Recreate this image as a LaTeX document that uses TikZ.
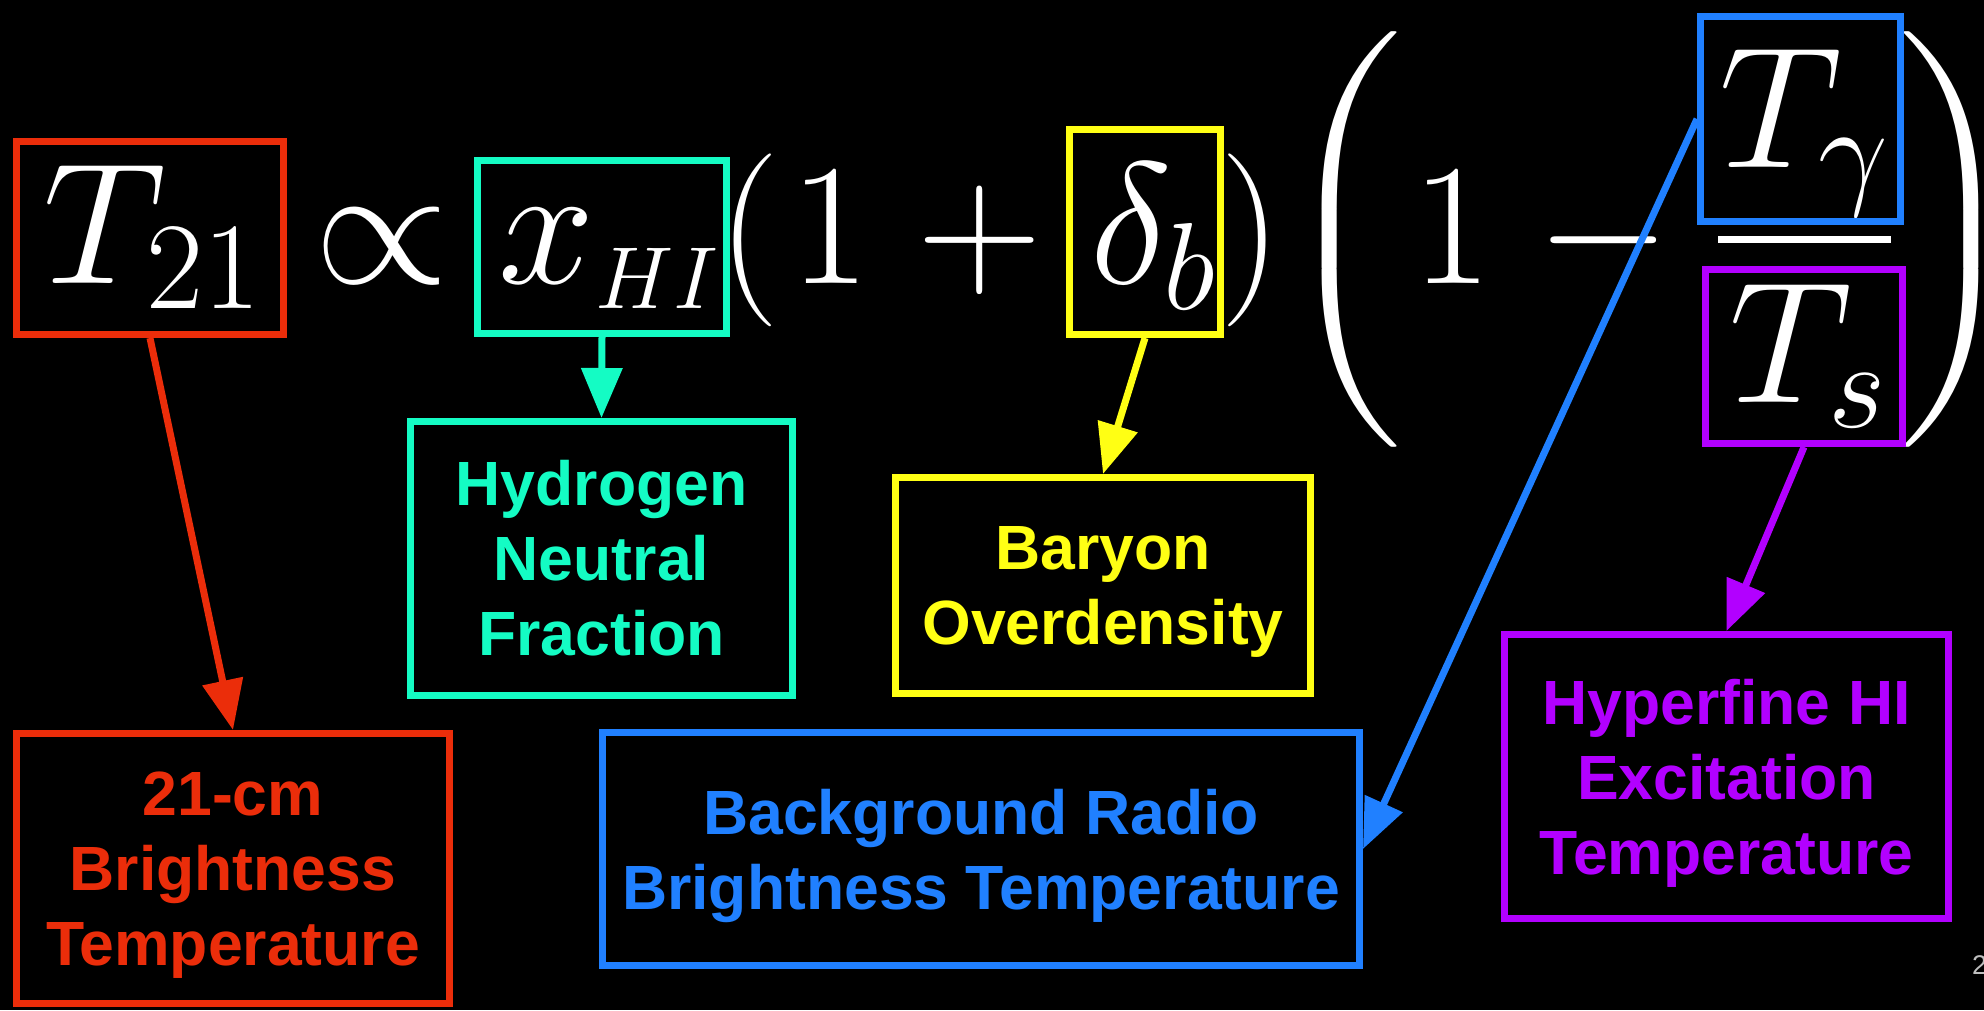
\RequirePackage{fix-cm}
\documentclass[tikz,border=0pt]{standalone}
\usepackage{graphicx}
\usepackage[no-math]{fontspec}
\newfontfamily\labfont{Liberation Sans}
\usetikzlibrary{arrows.meta}
\DeclareMathSizes{173}{173}{124}{88}
\definecolor{cred}{RGB}{235,45,10}
\definecolor{cteal}{RGB}{20,252,196}
\definecolor{cyel}{RGB}{255,255,20}
\definecolor{cblue}{RGB}{32,128,255}
\definecolor{cpurp}{RGB}{178,0,255}
\definecolor{cgray}{RGB}{190,190,190}
\newcommand{\bigleftparen}{\scalebox{13.6}[9.88]{$\nulldelimiterspace=0pt\left(\vrule height 24.5pt depth 19.5pt width 0pt\right.$}}
\newcommand{\bigrightparen}{\scalebox{13.6}[9.88]{$\nulldelimiterspace=0pt\left.\vrule height 24.5pt depth 19.5pt width 0pt\right)$}}
\tikzset{
  mathtxt/.style={text=white, inner sep=0pt, outer sep=0pt, anchor=base west, font=\fontsize{173}{200}\selectfont},
  bigparen/.style={text=white, inner sep=0pt, outer sep=0pt, anchor=west},
  hbox/.style={draw=#1, line width=7pt, inner sep=0pt},
  lbl/.style={draw=#1, text=#1, line width=7pt, align=center, inner sep=0pt, font=\labfont\bfseries\fontsize{62.5}{75}\selectfont},
  conn/.style={draw=#1, fill=#1, line width=7pt, -{Triangle[length=50pt,width=40pt]}}
}
\begin{document}
\begin{tikzpicture}[x=1pt,y=-1pt]
\fill[black] (0,0) rectangle (1984,1010);
\useasboundingbox (0,0) rectangle (1984,1010);
% math pieces
\node[mathtxt] (m1) at (43,283) {$T_{\kern4pt 21}$};
\node[mathtxt] (m2) at (314,283) {$\propto$};
\node[mathtxt] (m3) at (498,283) {$x_{\kern1pt\scriptscriptstyle HI}$};
\node[mathtxt] (m4) at (718,283) {$($};
\node[mathtxt] (m5) at (790,283) {$1$};
\node[mathtxt] (m6) at (917,283) {$+$};
\node[mathtxt] (m7) at (1090,283) {$\delta_{\kern-2pt b}$};
\node[mathtxt] (m8) at (1220,283) {$)$};
\node[bigparen] (m9) at (1282,239.5) {\bigleftparen};
\node[mathtxt] (m10) at (1412,283) {$1$};
\node[mathtxt] (m11) at (1536,283) {$-$};
\node[mathtxt] (m12) at (1719,167) {$T_\gamma$};
\node[mathtxt] (m13) at (1729,402) {$T_s$};
\node[bigparen] (m14) at (1899,239.5) {\bigrightparen};
\draw[white, line width=7pt] (1718,239) -- (1891,239);
% highlight boxes
\node[hbox=cred, minimum width=267pt, minimum height=193pt] (t21box) at (150,238) {};
\node[hbox=cteal, minimum width=249pt, minimum height=173pt] (xhibox) at (602,247) {};
\node[hbox=cyel, minimum width=151pt, minimum height=205pt] (dbbox) at (1145,232) {};
\node[hbox=cblue, minimum width=200pt, minimum height=205pt] (tgbox) at (1800.5,119) {};
\node[hbox=cpurp, minimum width=197pt, minimum height=174pt] (tsbox) at (1804,356.5) {};
% label boxes
\node[lbl=cteal, minimum width=382pt, minimum height=274pt] (hyd) at (601.5,558.5) {Hydrogen\\Neutral\\Fraction};
\node[lbl=cyel, minimum width=415pt, minimum height=216pt] (bar) at (1103,585.5) {Baryon\\\smash{Overdensity}};
\node[lbl=cred, minimum width=433pt, minimum height=270pt] (cm) at (233,868.5) {21-cm\\Brightness\\\smash{Temperature}};
\node[lbl=cblue, minimum width=757pt, minimum height=233pt] (bg) at (981,849) {Background Radio\\\smash{Brightness Temperature}};
\node[lbl=cpurp, minimum width=444pt, minimum height=284pt] (hyp) at (1726.5,776.5) {Hyperfine HI\\Excitation\\\smash{Temperature}};
% connectors
\draw[conn=cred] (t21box.south) -- (cm.north);
\draw[conn=cteal] (xhibox.south) -- (hyd.north);
\draw[conn=cyel] (dbbox.south) -- (bar.north);
\draw[conn=cblue] (tgbox.west) -- (bg.east);
\draw[conn=cpurp] (tsbox.south) -- (hyp.north);
% page number
\node[text=cgray, inner sep=0pt, anchor=base west, font=\labfont\fontsize{27}{30}\selectfont] (pg) at (1972,974) {2};
\end{tikzpicture}
\end{document}
